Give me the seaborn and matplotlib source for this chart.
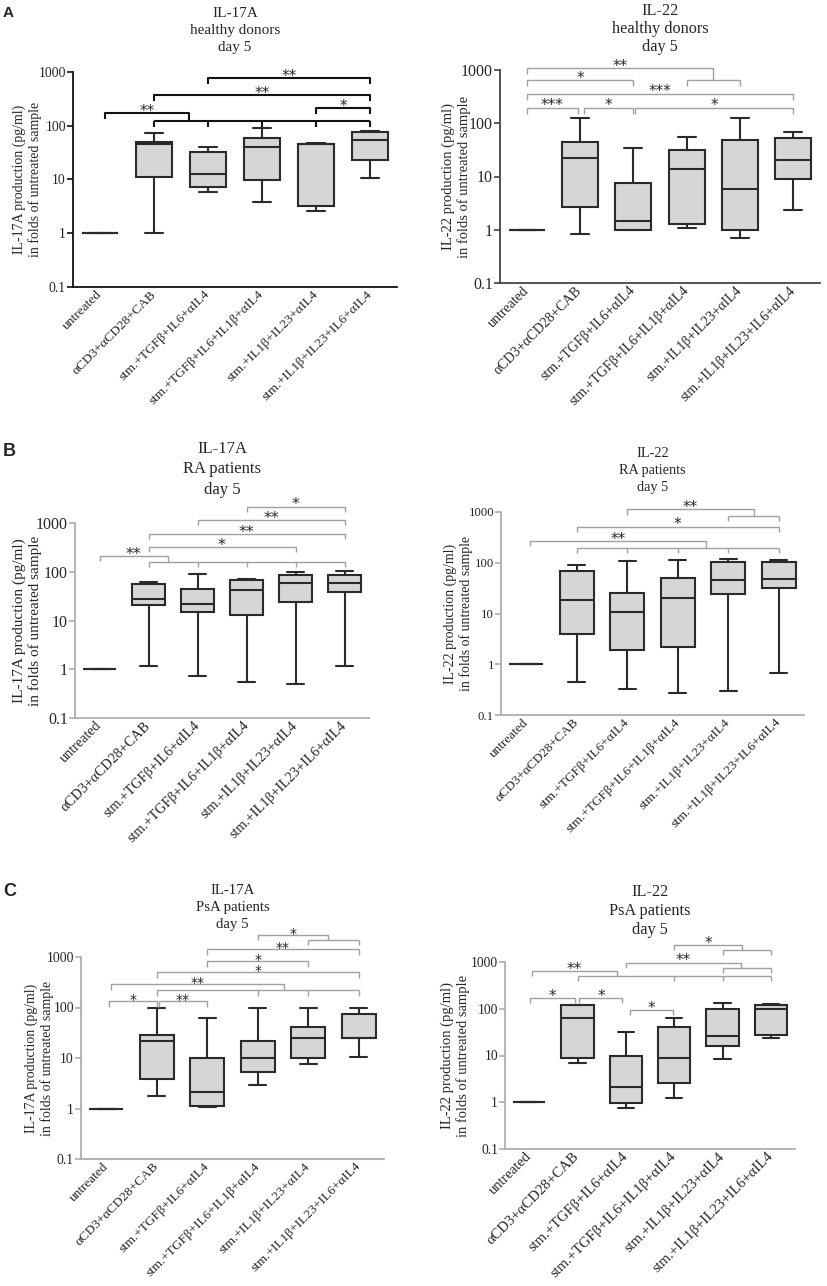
import numpy as np
import pandas as pd
import seaborn as sns
import matplotlib.pyplot as plt

# conditions on the x axis
categories = ["untreated", "αCD3+αCD28+CAB", "stm.+TGFβ+IL6+αIL4",
              "stm.+TGFβ+IL6+IL1β+αIL4", "stm.+IL1β+IL23+αIL4",
              "stm.+IL1β+IL23+IL6+αIL4"]
ytick_vals = [0.1, 1, 10, 100, 1000]
ytick_labels = ["0.1", "1", "10", "100", "1000"]

# five-number summaries: min, q1, median, q3, max
hd_il17 = [[1, 1, 1, 1, 1],
           [1.0, 11.2, 45, 50, 72],
           [5.9, 7.1, 12.6, 32, 40],
           [3.8, 9.8, 41, 60, 92],
           [2.6, 3.2, 45, 46, 48],
           [10.8, 23, 55, 75, 81]]
hd_il22 = [[1, 1, 1, 1, 1],
           [0.82, 2.7, 22, 45, 125],
           [1.0, 1.0, 1.43, 7.5, 35],
           [1.06, 1.28, 14, 31, 56],
           [0.7, 1.0, 5.7, 49, 126],
           [2.3, 8.9, 20, 52, 69]]
ra_il17 = [[1, 1, 1, 1, 1],
           [1.17, 21, 27, 55, 61],
           [0.72, 14.6, 22, 45, 88],
           [0.56, 12.9, 43, 67, 72],
           [0.49, 23.5, 58, 85, 98],
           [1.17, 38, 59, 85, 102]]
ra_il22 = [[1, 1, 1, 1, 1],
           [0.45, 4.0, 18.4, 70, 92],
           [0.32, 1.9, 10.5, 25, 108],
           [0.27, 2.16, 20.5, 50, 113],
           [0.30, 24, 46, 105, 120],
           [0.67, 32, 47, 105, 115]]
psa_il17 = [[1, 1, 1, 1, 1],
            [1.8, 3.8, 21.5, 28, 96],
            [1.05, 1.1, 2.1, 9.9, 62],
            [2.9, 5.3, 10, 22, 96],
            [7.7, 9.9, 25, 42, 100],
            [10.3, 24.6, 25.4, 75, 97]]
psa_il22 = [[1, 1, 1, 1, 1],
            [7.0, 8.8, 62, 120, 123],
            [0.77, 0.97, 2.07, 9.7, 32],
            [1.22, 2.56, 8.7, 41, 64],
            [8.4, 16, 26, 98, 130],
            [24, 27, 97, 123, 128]]

# significance: pairs (x1, x2, height, label)
# groups (x1, x_join, height, label, members, group height)
hd_il17_pairs = [(4, 5, 214, "*"), (1, 5, 373, "**"), (2, 5, 773, "**")]
hd_il17_groups = [(0.1, 1.65, 172, "**", [1, 2, 3, 4, 5], 122)]
hd_il22_pairs = [(0, 2, 650, "*"), (0, 5, 359, "***"), (0, 0.96, 196, "***"),
                 (1.07, 2, 196, "*"), (2.04, 5, 196, "*")]
hd_il22_groups = [(0, 3.5, 1100, "**", [3, 4], 650)]
ra_il17_pairs = [(3, 5, 2170, "*"), (2, 5, 1153, "**"), (1, 5, 593, "**"),
                 (1, 4, 324, "*")]
ra_il17_groups = [(0, 1.39, 212, "**", [1, 2, 3, 4, 5], 159)]
ra_il22_pairs = [(1, 5, 513, "*")]
ra_il22_groups = [(2, 4.51, 1130, "**", [4, 5], 845),
                  (0.08, 3.56, 271, "**", [1, 2, 3, 4, 5], 197)]
psa_il17_pairs = [(2, 5, 1423, "**"), (2, 4, 832, "*"), (1, 5, 503, "*"),
                  (0.05, 1, 133, "*"), (1.04, 2, 133, "**")]
psa_il17_groups = [(3, 4.4, 2740, "*", [4, 5], 2177),
                   (0.09, 3.51, 287, "**", [1, 3, 4, 5], 221)]
psa_il22_pairs = [(0.02, 0.95, 169, "*"), (1.04, 1.93, 169, "*"),
                  (2.09, 2.98, 95, "*")]
psa_il22_groups = [(3, 4.41, 2270, "*", [4, 5], 1800),
                   (2, 4.39, 967, "**", [4, 5], 757),
                   (0.06, 1.82, 644, "**", [1, 3, 4, 5], 512)]

W, H = 827, 1286

sns.set_style("ticks")
plt.rcParams['font.family'] = ['Liberation Serif', 'DejaVu Serif']

# layout per panel (pixels): axes rect (left, top@1000, right, bottom@0.1),
# title top, ylabel right edge, font sizes
panels = [
    dict(stats=hd_il17, pairs=hd_il17_pairs, groups=hd_il17_groups,
         title="IL-17A\nhealthy donors\nday 5", cyt="IL-17A",
         rect=(73, 72, 397, 287), ttop=7, tls=1.42, yl=42,
         fs=11, tfs=9.9, xfs=9.6, yfs=10, sfs=11,
         letter="A", ltop=6, lsize=11,
         axc="#111111", brc="#111111", brlw=1.5),
    dict(stats=hd_il22, pairs=hd_il22_pairs, groups=hd_il22_groups,
         title="IL-22\nhealthy donors\nday 5", cyt="IL-22",
         rect=(500, 70, 820, 283), ttop=3, tls=1.15, yl=471,
         fs=11.7, tfs=11.5, xfs=10, yfs=10.5, sfs=11,
         letter=None, axc="#444444", brc="#a0a0a0", brlw=1.0),
    dict(stats=ra_il17, pairs=ra_il17_pairs, groups=ra_il17_groups,
         title="IL-17A\nRA patients\nday 5", cyt="IL-17A",
         rect=(75, 523, 369, 718), ttop=441, tls=1.37, yl=42,
         fs=12, tfs=11.5, xfs=10.2, yfs=11, sfs=11.5,
         letter="B", ltop=443, lsize=13,
         axc="#b0acbc", brc="#a0a0a0", brlw=1.0),
    dict(stats=ra_il22, pairs=ra_il22_pairs, groups=ra_il22_groups,
         title="IL-22\nRA patients\nday 5", cyt="IL-22",
         rect=(501, 512, 804, 715), ttop=447, tls=1.4, yl=473,
         fs=10.3, tfs=9.2, xfs=9.5, yfs=10, sfs=11,
         letter=None, axc="#b0acbc", brc="#a0a0a0", brlw=1.0),
    dict(stats=psa_il17, pairs=psa_il17_pairs, groups=psa_il17_groups,
         title="IL-17A\nPsA patients\nday 5", cyt="IL-17A",
         rect=(81, 957, 384, 1159), ttop=884, tls=1.38, yl=54,
         fs=10.7, tfs=9.9, xfs=9.5, yfs=10, sfs=10,
         letter="C", ltop=883, lsize=13,
         axc="#b0acbc", brc="#a0a0a0", brlw=1.0),
    dict(stats=psa_il22, pairs=psa_il22_pairs, groups=psa_il22_groups,
         title="IL-22\nPsA patients\nday 5", cyt="IL-22",
         rect=(505, 962, 795, 1149), ttop=884, tls=1.27, yl=470,
         fs=11.7, tfs=9.8, xfs=10.5, yfs=10.5, sfs=11,
         letter=None, axc="#b0acbc", brc="#a0a0a0", brlw=1.0),
]

fig = plt.figure(figsize=(W / 100, H / 100), dpi=100)
tick_f = 10 ** 0.11


def draw_sig(ax, pairs, groups, color, lw, fs):
    kw = dict(color=color, lw=lw, clip_on=False, solid_capstyle='butt')
    tkw = dict(xytext=(0, -2), textcoords='offset points', ha='center',
               va='baseline', fontsize=fs, family='DejaVu Sans',
               annotation_clip=False)
    for x1, x2, h, lab in pairs:
        ax.plot([x1, x1, x2, x2], [h / tick_f, h, h, h / tick_f], **kw)
        ax.annotate(lab, xy=((x1 + x2) / 2, h), **tkw)
    for x1, xc, h, lab, members, h2 in groups:
        ax.plot([x1, x1, xc, xc], [h / tick_f, h, h, h2], **kw)
        ax.plot([min(members), max(members)], [h2, h2], **kw)
        for m in members:
            ax.plot([m, m], [h2, h2 / tick_f], **kw)
        ax.annotate(lab, xy=((x1 + xc) / 2, h), **tkw)


for p in panels:
    l, t, r, b = p["rect"]
    ax = fig.add_axes([l / W, 1 - b / H, (r - l) / W, (b - t) / H])

    rows = []
    for cat, s in zip(categories, p["stats"]):
        for v in s:
            rows.append((cat, v))
    df = pd.DataFrame(rows, columns=["condition", "value"])

    sns.boxplot(data=df, x="condition", y="value", order=categories, ax=ax,
                log_scale=True, whis=(0, 100), width=0.67, color="#d6d6d6",
                saturation=1, linecolor="#2a2a2a", linewidth=1.5,
                showfliers=False)

    ax.set_ylim(0.1, 1000)
    ax.set_xlim(-0.5, 5.5)
    ax.set_yticks(ytick_vals)
    ax.set_yticklabels(ytick_labels)
    ax.yaxis.set_minor_locator(plt.NullLocator())
    ax.tick_params(axis='y', length=4, width=1.2, color=p["axc"],
                   labelsize=p["tfs"], pad=1)
    ax.tick_params(axis='x', length=0, pad=4, labelsize=p["xfs"])
    for lab in ax.get_xticklabels():
        lab.set_rotation(45)
        lab.set_ha('right')
        lab.set_va('center')
        lab.set_rotation_mode('anchor')
    ax.set_xlabel("")
    ax.set_ylabel(p["cyt"] + " production (pg/ml)\nin folds of untreated sample",
                  fontsize=p["yfs"], linespacing=1.25)
    ax.yaxis.set_label_coords((p["yl"] - l) / (r - l), 0.5)
    sns.despine(ax=ax)
    for sp in ["left", "bottom"]:
        ax.spines[sp].set_color(p["axc"])
        ax.spines[sp].set_linewidth(1.3)

    draw_sig(ax, p["pairs"], p["groups"], p["brc"], p["brlw"], p["sfs"])

    fig.text((l + r) / 2 / W, 1 - p["ttop"] / H, p["title"], ha='center',
             va='top', fontsize=p["fs"], linespacing=p["tls"])
    if p["letter"]:
        fig.text(3 / W, 1 - p["ltop"] / H, p["letter"], ha='left',
                 va='top', fontsize=p["lsize"], fontweight='bold',
                 family='Liberation Sans')

fig.savefig("out.png", dpi=100)
